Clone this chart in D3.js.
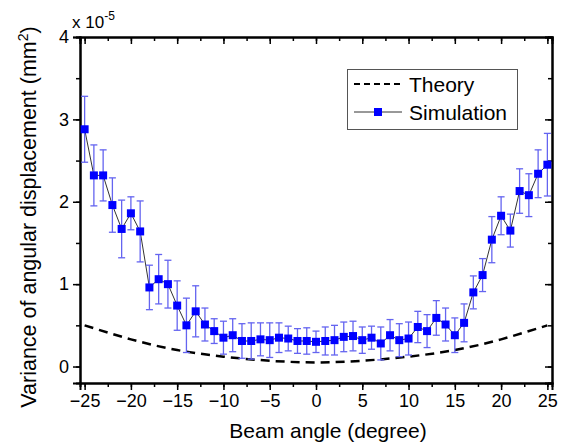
<!DOCTYPE html>
<html>
<head>
<meta charset="utf-8">
<script src="https://cdn.jsdelivr.net/npm/d3@7"></script>
<style>
  body { margin: 0; background: #fff; }
  svg text { font-family: "Liberation Sans", Arial, sans-serif; fill: #000; }
  .axis path, .axis line { stroke: #000; }
  .axis path { stroke-width: 2; }
  .axis line { stroke-width: 1.5; }
</style>
</head>
<body>
<svg id="chart"></svg>
<script>
// beam angle (degree)
let angles = d3.range(-25, 26);

// simulated variance (x 1e-5 mm^2)
let simValues = [2.88, 2.32, 2.32, 1.96, 1.67, 1.86, 1.64, 0.96, 1.06, 1.00,
                 0.74, 0.50, 0.67, 0.51, 0.43, 0.35, 0.38, 0.31, 0.31, 0.33,
                 0.32, 0.35, 0.34, 0.31, 0.31, 0.30, 0.31, 0.32, 0.36, 0.37,
                 0.32, 0.35, 0.28, 0.38, 0.32, 0.34, 0.48, 0.43, 0.59, 0.51,
                 0.38, 0.53, 0.90, 1.11, 1.54, 1.83, 1.65, 2.13, 2.08, 2.34,
                 2.45];

// half length of error bars
let simErrors = [0.40, 0.37, 0.31, 0.33, 0.35, 0.20, 0.37, 0.27, 0.30, 0.29,
                 0.30, 0.33, 0.31, 0.20, 0.15, 0.20, 0.20, 0.21, 0.22, 0.20,
                 0.21, 0.18, 0.15, 0.15, 0.16, 0.13, 0.17, 0.18, 0.18, 0.18,
                 0.16, 0.14, 0.20, 0.19, 0.20, 0.20, 0.19, 0.20, 0.21, 0.20,
                 0.21, 0.23, 0.20, 0.20, 0.28, 0.23, 0.20, 0.27, 0.26, 0.29,
                 0.38];

// theory curve, sampled points
let theoryAngles = [-25, -20, -15, -10, -5, 0, 5, 10, 15, 20, 25];
let theoryValues = [0.50, 0.33, 0.20, 0.12, 0.07, 0.05, 0.07, 0.12, 0.20, 0.33, 0.50];

let xTicks = [-25, -20, -15, -10, -5, 0, 5, 10, 15, 20, 25];
let yTicks = [0, 1, 2, 3, 4];

let margin = { top: 37, right: 13, bottom: 64, left: 80 };
let W = 565, H = 447;

let svg = d3.select("#chart").attr("width", W).attr("height", H);

let x = d3.scaleLinear().domain([-25.5, 25.5]).range([margin.left, W - margin.right]);
let y = d3.scaleLinear().domain([-0.2, 4]).range([H - margin.bottom, margin.top]);

let xMinor = d3.range(-25, 25.1, 2.5);
let yMinor = d3.range(0, 4.01, 0.5);

// minor ticks first, then major axes on top
function minorAxis(axis, vals, size) {
    return axis.tickValues(vals).tickSize(size).tickFormat("");
}

// bottom
svg.append("g").attr("class", "axis")
    .attr("transform", "translate(0," + (H - margin.bottom) + ")")
    .call(minorAxis(d3.axisBottom(x), xMinor, 4));
svg.append("g").attr("class", "axis")
    .attr("transform", "translate(0," + (H - margin.bottom) + ")")
    .call(d3.axisBottom(x).tickValues(xTicks).tickSize(7).tickPadding(4).tickFormat(d3.format("d")))
    .selectAll("text").style("font-size", "18px");

// top (ticks inward)
svg.append("g").attr("class", "axis")
    .attr("transform", "translate(0," + margin.top + ")")
    .call(minorAxis(d3.axisTop(x), xMinor, -4));
svg.append("g").attr("class", "axis")
    .attr("transform", "translate(0," + margin.top + ")")
    .call(minorAxis(d3.axisTop(x), xTicks, -7));

// left
svg.append("g").attr("class", "axis")
    .attr("transform", "translate(" + margin.left + ",0)")
    .call(minorAxis(d3.axisLeft(y), yMinor, 4));
svg.append("g").attr("class", "axis")
    .attr("transform", "translate(" + margin.left + ",0)")
    .call(d3.axisLeft(y).tickValues(yTicks).tickSize(7).tickPadding(4).tickFormat(d3.format("d")))
    .selectAll("text").style("font-size", "18px");

// right (ticks inward)
svg.append("g").attr("class", "axis")
    .attr("transform", "translate(" + (W - margin.right) + ",0)")
    .call(minorAxis(d3.axisRight(y), yMinor, -4));
svg.append("g").attr("class", "axis")
    .attr("transform", "translate(" + (W - margin.right) + ",0)")
    .call(minorAxis(d3.axisRight(y), yTicks, -7));

// theory line
let theory = theoryAngles.map((a, i) => ({ a: a, v: theoryValues[i] }));
svg.append("path")
    .datum(theory)
    .attr("fill", "none")
    .attr("stroke", "#000")
    .attr("stroke-width", 2.5)
    .attr("stroke-dasharray", "9,6")
    .attr("d", d3.line().x(d => x(d.a)).y(d => y(d.v)).curve(d3.curveNatural));

let sim = angles.map((a, i) => ({ a: a, v: simValues[i], e: simErrors[i] }));

// connecting line
svg.append("path")
    .datum(sim)
    .attr("fill", "none")
    .attr("stroke", "#333")
    .attr("stroke-width", 1)
    .attr("d", d3.line().x(d => x(d.a)).y(d => y(d.v)));

// error bars
let errColor = "#6464f0";
let bars = svg.append("g").attr("stroke", errColor).attr("stroke-width", 1.3);
bars.selectAll("line.stem").data(sim).enter().append("line")
    .attr("x1", d => x(d.a)).attr("x2", d => x(d.a))
    .attr("y1", d => y(d.v + d.e)).attr("y2", d => y(d.v - d.e));
bars.selectAll("line.capTop").data(sim).enter().append("line")
    .attr("x1", d => x(d.a) - 3.5).attr("x2", d => x(d.a) + 3.5)
    .attr("y1", d => y(d.v + d.e)).attr("y2", d => y(d.v + d.e));
bars.selectAll("line.capBot").data(sim).enter().append("line")
    .attr("x1", d => x(d.a) - 3.5).attr("x2", d => x(d.a) + 3.5)
    .attr("y1", d => y(d.v - d.e)).attr("y2", d => y(d.v - d.e));

// markers
let sq = 8;
svg.selectAll("rect.pt").data(sim).enter().append("rect")
    .attr("class", "pt")
    .attr("x", d => x(d.a) - sq / 2)
    .attr("y", d => y(d.v) - sq / 2)
    .attr("width", sq).attr("height", sq)
    .attr("fill", "#0000ff");

// legend
let lg = svg.append("g");
lg.append("rect")
    .attr("x", 347.5).attr("y", 69.5).attr("width", 170).attr("height", 60)
    .attr("fill", "#fff").attr("stroke", "#555").attr("stroke-width", 1);
lg.append("line")
    .attr("x1", 354).attr("x2", 402).attr("y1", 84).attr("y2", 84)
    .attr("stroke", "#000").attr("stroke-width", 2).attr("stroke-dasharray", "6,4");
lg.append("text").attr("x", 409).attr("y", 92).style("font-size", "21px").text("Theory");
lg.append("line")
    .attr("x1", 354).attr("x2", 402).attr("y1", 112).attr("y2", 112)
    .attr("stroke", "#333").attr("stroke-width", 1);
lg.append("rect")
    .attr("x", 378 - 4).attr("y", 112 - 4).attr("width", 8).attr("height", 8)
    .attr("fill", "#0000ff");
lg.append("text").attr("x", 409).attr("y", 120).style("font-size", "21px").text("Simulation");

// axis titles
svg.append("text")
    .attr("x", (margin.left + W - margin.right) / 2 + 12)
    .attr("y", 438)
    .attr("text-anchor", "middle")
    .style("font-size", "21px")
    .text("Beam angle (degree)");

let yt = svg.append("text")
    .attr("transform", "translate(36,217) rotate(-90)")
    .attr("text-anchor", "middle")
    .style("font-size", "21.5px");
yt.append("tspan").text("Variance of angular displacement (mm");
yt.append("tspan").attr("dy", -8).style("font-size", "14px").text("2");
yt.append("tspan").attr("dy", 8).text(")");

// exponent note
let ex = svg.append("text").attr("x", 72).attr("y", 28).style("font-size", "17px");
ex.append("tspan").text("x 10");
ex.append("tspan").attr("dy", -8).style("font-size", "12px").text("-5");
</script>
</body>
</html>
